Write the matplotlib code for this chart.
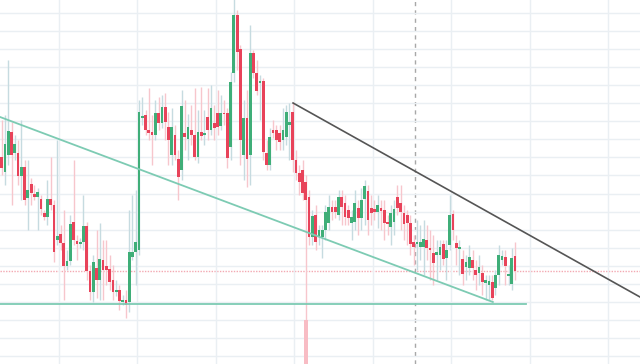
import numpy as np
import matplotlib
matplotlib.use("Agg")
import matplotlib.pyplot as plt

# OHLC (arbitrary price units)
opens = [243, 228, 245, 268, 247, 247, 224, 233, 202, 216, 206, 203, 201, 187, 183, 201, 195, 160, 166, 157,
         134, 139, 178, 159, 156, 158, 174, 129, 108, 132, 120, 140, 134, 131, 120, 108, 110, 98, 100, 98,
         143, 148, 150, 282, 285, 270, 268, 265, 287, 277, 293, 273, 245, 265, 241, 230, 267, 261, 270, 265,
         243, 268, 265, 283, 270, 277, 287, 274, 287, 287, 253, 327, 385, 351, 245, 282, 245, 347, 327, 317,
         319, 247, 235, 270, 270, 267, 260, 263, 275, 288, 240, 227, 230, 218, 203, 163, 185, 163, 163, 170,
         177, 193, 193, 185, 203, 197, 190, 177, 178, 192, 182, 201, 209, 192, 191, 188, 192, 190, 178, 173,
         178, 203, 197, 187, 185, 177, 158, 156, 153, 153, 160, 152, 147, 145, 145, 156, 142, 155, 186, 157,
         151, 141, 133, 132, 140, 130, 127, 127, 117, 115, 118, 112, 125, 140, 143, 124, 116, 144]
highs = [280, 285, 340, 278, 265, 260, 280, 240, 240, 222, 215, 212, 205, 190, 220, 243, 200, 260, 175, 190,
         150, 185, 240, 165, 162, 205, 178, 135, 145, 170, 177, 160, 160, 145, 135, 120, 115, 105, 110, 190,
         205, 210, 300, 303, 290, 312, 285, 300, 303, 305, 307, 288, 292, 275, 250, 310, 300, 286, 295, 312,
         290, 313, 290, 312, 315, 295, 310, 305, 300, 292, 328, 402, 390, 355, 300, 310, 375, 350, 340, 325,
         322, 260, 272, 280, 275, 275, 292, 295, 297, 298, 250, 235, 240, 225, 210, 190, 195, 175, 175, 195,
         205, 200, 200, 210, 210, 205, 195, 190, 210, 200, 212, 220, 215, 205, 200, 205, 200, 200, 185, 195,
         200, 215, 215, 195, 190, 185, 165, 180, 175, 180, 175, 170, 165, 160, 160, 160, 160, 205, 190, 165,
         160, 150, 145, 155, 150, 140, 145, 135, 125, 125, 125, 130, 155, 150, 150, 135, 152, 158]
lows = [225, 215, 235, 195, 240, 215, 200, 195, 170, 195, 200, 170, 185, 180, 175, 190, 138, 155, 150, 100,
        130, 135, 155, 140, 152, 150, 120, 100, 98, 102, 100, 100, 115, 110, 100, 104, 90, 95, 82, 88,
        140, 115, 145, 275, 265, 260, 235, 260, 270, 272, 260, 235, 235, 240, 200, 220, 250, 240, 255, 240,
        237, 260, 255, 260, 265, 260, 265, 270, 275, 232, 240, 318, 330, 235, 220, 213, 215, 322, 305, 280,
        240, 230, 230, 262, 250, 250, 250, 255, 240, 228, 220, 205, 200, 20, 155, 155, 150, 155, 142, 160,
        170, 180, 182, 180, 175, 175, 175, 160, 170, 165, 170, 175, 165, 175, 180, 172, 170, 160, 165, 155,
        165, 185, 170, 160, 155, 145, 135, 130, 140, 125, 140, 120, 115, 120, 130, 135, 120, 150, 160, 135,
        125, 115, 120, 125, 120, 110, 115, 105, 100, 100, 100, 105, 115, 135, 115, 115, 110, 120]
closes = [232, 256, 269, 245, 256, 224, 233, 200, 210, 207, 203, 208, 191, 183, 201, 195, 148, 164, 157, 134,
          139, 176, 160, 156, 158, 174, 129, 108, 138, 120, 141, 130, 130, 118, 108, 110, 99, 100, 95, 148,
          148, 158, 288, 284, 270, 267, 265, 287, 277, 293, 278, 260, 273, 245, 223, 294, 263, 273, 265, 243,
          268, 264, 267, 270, 292, 272, 273, 287, 286, 242, 318, 385, 348, 260, 282, 241, 347, 327, 309, 319,
          248, 235, 263, 267, 260, 258, 270, 288, 278, 240, 227, 218, 207, 200, 163, 184, 158, 170, 170, 188,
          193, 188, 188, 203, 193, 183, 182, 183, 197, 182, 200, 214, 180, 187, 188, 195, 189, 177, 176, 187,
          191, 192, 188, 176, 177, 156, 153, 158, 158, 161, 152, 150, 137, 148, 153, 141, 150, 185, 170, 152,
          153, 126, 138, 143, 132, 125, 133, 118, 120, 119, 102, 125, 145, 144, 134, 126, 142, 129]
# only one volume bar rises above the chart floor
volumes = np.zeros(len(opens))
volumes[93] = 44

# drawn lines: (x0, y0) -> (x1, y1) in candle index / price
wedge_low = ([-0.5, 150.2], [283, 98])
base_line = ([-1, 160.3], [96, 96])
wedge_high = ([89.1, 195.2], [297, 103])
marker_x = 126.4

UP = "#3fae78"
DOWN = "#e8435a"
UP_WICK = "#c6dbe0"
DOWN_WICK = "#f7c6cc"

x = np.arange(len(opens))
o = np.array(opens)
c = np.array(closes)
up = c >= o
body_lo = np.minimum(o, c)
body_h = np.maximum(np.abs(c - o), 1.0)

fig = plt.figure(figsize=(6.4, 3.64), dpi=100)
ax = fig.add_axes([0, 0, 1, 1])
ax.set_xlim(-0.52, 195.2)
ax.set_ylim(36, 400)

# grid
ax.set_xticks(np.arange(17.5, 196, 24))
ax.set_yticks(np.arange(387, 30, -18.05))
ax.grid(True, color="#eaeff3", linewidth=1)
ax.tick_params(length=0, labelbottom=False, labelleft=False)
for s in ax.spines.values():
    s.set_visible(False)

# volume
vax = ax.twinx()
vax.set_ylim(0, 364)
vax.bar(x, volumes, width=1.2, color="#f8bcc4", zorder=1)
vax.axis("off")

ax.vlines(x, lows, highs, colors=np.where(up, UP_WICK, DOWN_WICK), linewidth=1, zorder=2)
ax.bar(x, body_h, bottom=body_lo, width=0.84, color=np.where(up, UP, DOWN), zorder=3)

ax.axhline(closes[-1], color="#f3a9b2", linewidth=1, linestyle=(0, (1, 1)), zorder=1)
ax.axvline(marker_x, color="#a8a8a8", linewidth=1, linestyle=(0, (3, 3)), zorder=1)

ax.plot(*wedge_low, color="#7dcbb3", linewidth=1.3, zorder=4)
ax.plot(*base_line, color="#7dcbb3", linewidth=1.3, zorder=4)
ax.plot(*wedge_high, color="#555555", linewidth=1.2, zorder=4)

fig.savefig("out.png", dpi=100, facecolor="white")
